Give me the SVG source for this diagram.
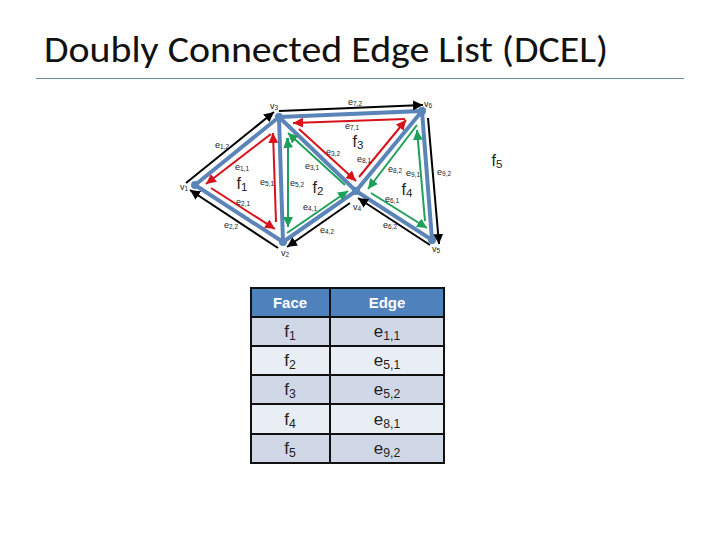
<svg xmlns="http://www.w3.org/2000/svg" width="720" height="540" viewBox="0 0 720 540">
<defs>
<marker id="ab" markerWidth="10" markerHeight="10" refX="6" refY="3" orient="auto" markerUnits="userSpaceOnUse" viewBox="0 0 6 6"><path d="M0 0L6 3L0 6z" fill="#000"/></marker>
<marker id="ar" markerWidth="10" markerHeight="10" refX="6" refY="3" orient="auto" markerUnits="userSpaceOnUse" viewBox="0 0 6 6"><path d="M0 0L6 3L0 6z" fill="#d8121a"/></marker>
<marker id="ag" markerWidth="10" markerHeight="10" refX="6" refY="3" orient="auto" markerUnits="userSpaceOnUse" viewBox="0 0 6 6"><path d="M0 0L6 3L0 6z" fill="#1fa05a"/></marker>
</defs>
<style>
text{font-family:"Liberation Sans",Arial,sans-serif}
.t{font-size:36px;fill:#111;font-family:Carlito,"Open Sans","Liberation Sans",sans-serif}
.l{font-size:9px;fill:#222;text-anchor:middle}
.f{font-size:16px;fill:#222;text-anchor:middle}
.s{font-size:72%}
.blue{stroke:#5b84b8;stroke-width:4;fill:none}
.b{stroke:#000;stroke-width:2;fill:none;marker-end:url(#ab)}
.r{stroke:#d8121a;stroke-width:2;fill:none;marker-end:url(#ar)}
.g{stroke:#1fa05a;stroke-width:2;fill:none;marker-end:url(#ag)}
.hd{fill:#4f81bd}.odd{fill:#d0d8e8}.even{fill:#e9edf4}
.c{font-size:17px;fill:#222;text-anchor:middle}
.h{font-size:15px;font-weight:bold;fill:#fff;text-anchor:middle}
.grid{stroke:#111;stroke-width:2;fill:none}
</style>
<text class="t" x="44" y="62" textLength="564" lengthAdjust="spacingAndGlyphs">Doubly Connected Edge List (DCEL)</text>
<line x1="36" y1="78.500" x2="684" y2="78.500" stroke="#6f8a9c" stroke-width="1"/>
<g id="edges">
<path class="blue" d="M195 185L279 117L283 242ZM279 117L422 111L356 191ZM283 242L356 191L279 117ZM356 191L422 111L432 240Z"/>
<path class="b" d="M186 183L274 112"/><path class="b" d="M279 111L423 105"/><path class="b" d="M428 118L439 244"/>
<path class="b" d="M278 248L190 190"/><path class="b" d="M350 203L287 247"/><path class="b" d="M430 245L358 198"/>
<path class="r" d="M271 134L206 184"/><path class="r" d="M211 188L275 229"/><path class="r" d="M276 222L273 133"/>
<path class="r" d="M405 119L293 123"/><path class="r" d="M299 129L356 181"/><path class="r" d="M359 177L406 120"/>
<path class="g" d="M345 185L288 133"/><path class="g" d="M287 233L348 191"/><path class="g" d="M288 138L288 227"/><path class="g" d="M288 146L287 138"/>
<path class="g" d="M417 125L368 189"/><path class="g" d="M371 193L427 228"/><path class="g" d="M425 221L417 130"/>
</g>
<g id="v1"><circle cx="195" cy="185" r="4" fill="#5b84b8"/><text class="l" x="184" y="190">v<tspan class="s" dy="1">1</tspan></text></g>
<g id="v2"><circle cx="283" cy="242" r="4" fill="#5b84b8"/><text class="l" x="285" y="256">v<tspan class="s" dy="1">2</tspan></text></g>
<g id="v3"><circle cx="279" cy="117" r="4" fill="#5b84b8"/><text class="l" x="274" y="109">v<tspan class="s" dy="1">3</tspan></text></g>
<g id="v4"><circle cx="356" cy="191" r="4" fill="#5b84b8"/><text class="l" x="357" y="210">v<tspan class="s" dy="1">4</tspan></text></g>
<g id="v5"><circle cx="432" cy="240" r="4" fill="#5b84b8"/><text class="l" x="436" y="252">v<tspan class="s" dy="1">5</tspan></text></g>
<g id="v6"><circle cx="422" cy="111" r="4" fill="#5b84b8"/><text class="l" x="428" y="107">v<tspan class="s" dy="1">6</tspan></text></g>
<g id="edge-labels">
<text class="l" x="222" y="148">e<tspan class="s" dy="1">1,2</tspan></text>
<text class="l" x="242" y="170">e<tspan class="s" dy="1">1,1</tspan></text>
<text class="l" x="267" y="185">e<tspan class="s" dy="1">5,1</tspan></text>
<text class="l" x="297" y="186">e<tspan class="s" dy="1">5,2</tspan></text>
<text class="l" x="312" y="169">e<tspan class="s" dy="1">3,1</tspan></text>
<text class="l" x="333" y="155">e<tspan class="s" dy="1">3,2</tspan></text>
<text class="l" x="243" y="205">e<tspan class="s" dy="1">2,1</tspan></text>
<text class="l" x="231" y="228">e<tspan class="s" dy="1">2,2</tspan></text>
<text class="l" x="310" y="210">e<tspan class="s" dy="1">4,1</tspan></text>
<text class="l" x="327" y="233">e<tspan class="s" dy="1">4,2</tspan></text>
<text class="l" x="355" y="105">e<tspan class="s" dy="1">7,2</tspan></text>
<text class="l" x="352" y="129">e<tspan class="s" dy="1">7,1</tspan></text>
<text class="l" x="364" y="162">e<tspan class="s" dy="1">8,1</tspan></text>
<text class="l" x="395" y="172">e<tspan class="s" dy="1">8,2</tspan></text>
<text class="l" x="413" y="176">e<tspan class="s" dy="1">9,1</tspan></text>
<text class="l" x="444" y="175">e<tspan class="s" dy="1">9,2</tspan></text>
<text class="l" x="392" y="202">e<tspan class="s" dy="1">6,1</tspan></text>
<text class="l" x="390" y="228">e<tspan class="s" dy="1">6,2</tspan></text>
</g>
<g id="faces">
<text class="f" x="242" y="189">f<tspan class="s" dy="2">1</tspan></text>
<text class="f" x="318" y="193">f<tspan class="s" dy="2">2</tspan></text>
<text class="f" x="358" y="147">f<tspan class="s" dy="2">3</tspan></text>
<text class="f" x="407" y="195">f<tspan class="s" dy="2">4</tspan></text>
<text class="f" x="497" y="166">f<tspan class="s" dy="2">5</tspan></text>
</g>
<g id="table">
<rect class="hd" x="251" y="288" width="193" height="29"/>
<rect class="odd" x="251" y="317" width="193" height="29"/>
<rect class="even" x="251" y="346" width="193" height="29"/>
<rect class="odd" x="251" y="375" width="193" height="29"/>
<rect class="even" x="251" y="404" width="193" height="30"/>
<rect class="odd" x="251" y="434" width="193" height="29"/>
<path class="grid" d="M251 288H444V463H251ZM330 288V463M251 317H444M251 346H444M251 375H444M251 404H444M251 434H444"/>
<text class="h" x="290" y="308">Face</text><text class="h" x="387" y="308">Edge</text>
<text class="c" x="290" y="337">f<tspan class="s" dy="3">1</tspan></text><text class="c" x="387" y="337">e<tspan class="s" dy="3">1,1</tspan></text>
<text class="c" x="290" y="366">f<tspan class="s" dy="3">2</tspan></text><text class="c" x="387" y="366">e<tspan class="s" dy="3">5,1</tspan></text>
<text class="c" x="290" y="395">f<tspan class="s" dy="3">3</tspan></text><text class="c" x="387" y="395">e<tspan class="s" dy="3">5,2</tspan></text>
<text class="c" x="290" y="425">f<tspan class="s" dy="3">4</tspan></text><text class="c" x="387" y="425">e<tspan class="s" dy="3">8,1</tspan></text>
<text class="c" x="290" y="454">f<tspan class="s" dy="3">5</tspan></text><text class="c" x="387" y="454">e<tspan class="s" dy="3">9,2</tspan></text>
</g>
</svg>
